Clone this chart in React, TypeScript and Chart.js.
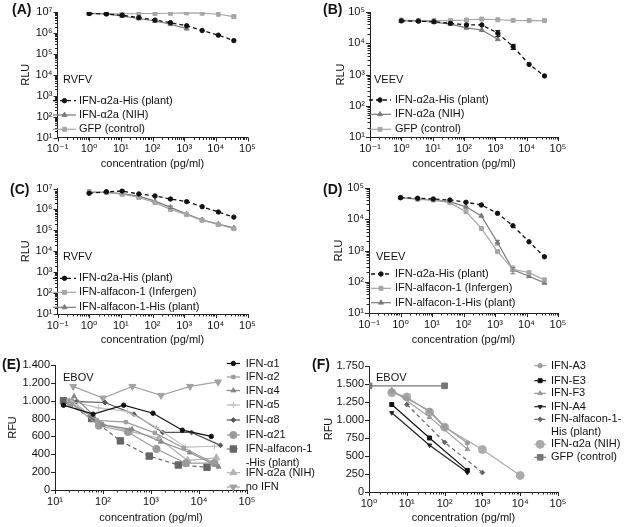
import React, { useEffect, useRef } from 'react';
import { Chart, registerables } from 'chart.js';
import { drawPoint } from 'chart.js/helpers';

Chart.register(...registerables);

const FONT = '"Liberation Sans", Arial, Helvetica, "DejaVu Sans", sans-serif';
Chart.defaults.font.family = FONT;
Chart.defaults.font.size = 11;
Chart.defaults.color = '#111';

// ---------------- DATA ----------------
// Panels A-D: dilution series (pg/ml)
const doseX = [1, 3.5, 11, 37, 120, 370, 1200, 3700, 12000, 37000];
const doseXnih = [1, 3.5, 11, 37, 120, 370, 1200];

// (A) RVFV
const aPlant = [8.5e6, 8e6, 7e6, 5.4e6, 4.1e6, 3.1e6, 2.2e6, 1.3e6, 7.8e5, 4.3e5];
const aNIH = [8.5e6, 8.2e6, 6.4e6, 4.9e6, 3.7e6, 2.6e6, 1.6e6];
const aGFP = [8.5e6, 8.5e6, 8.2e6, 8.5e6, 8.5e6, 8.7e6, 9e6, 8.8e6, 7.8e6, 6e6];

// (B) VEEV
const bPlant = [5.2e4, 5.1e4, 4.9e4, 4.35e4, 3.85e4, 3.85e4, 2.1e4, 7.8e3, 2.1e3, 9e2];
const bNIH = [5.15e4, 5.15e4, 4.7e4, 4.1e4, 3.1e4, 2.65e4, 1.34e4];
const bGFP = [5.55e4, 5.3e4, 5.3e4, 5.3e4, 5.55e4, 5.95e4, 5.65e4, 5.4e4, 5.3e4, 5.3e4];

// (C) RVFV
const cPlant = [5.9e6, 7.0e6, 7.6e6, 5.5e6, 4.4e6, 3.15e6, 2.35e6, 1.35e6, 7.5e5, 4.3e5];
const cInfergen = [7.2e6, 6.4e6, 5.3e6, 3.7e6, 2.1e6, 1.0e6, 5.6e5, 3.0e5, 1.9e5, 1.2e5];
const cAlfHis = [6.6e6, 6.6e6, 5.7e6, 4.3e6, 2.5e6, 1.25e6, 6.0e5, 3.2e5, 2.0e5, 1.3e5];

// (D) VEEV
const dPlant = [4.9e4, 4.7e4, 4.45e4, 4.13e4, 3.5e4, 2.86e4, 1.55e4, 6.2e3, 1.9e3, 6.3e2];
const dInfergen = [4.9e4, 4.35e4, 4.1e4, 3.4e4, 1.75e4, 5.1e3, 9.2e2, 2.5e2, 1.95e2, 1.15e2];
const dAlfHis = [4.9e4, 4.45e4, 4.1e4, 3.65e4, 2.5e4, 1.28e4, 1.8e3, 2.4e2, 1.5e2, 9.2e1];

// error bars [low, high] per point (null = none)
const aGFPErr = [null, null, null, null, null, null, null, null, null, [5e6, 7e6]];
const bPlantErr = [null, null, null, null, null, null, [1.65e4, 2.55e4], [6.3e3, 9.2e3], null, null];
const cAlfHisErr = [null, null, null, null, null, [1.1e6, 1.45e6], null, null, null, null];
const dInfergenErr = [null, null, null, null, null, null, null, [2.1e2, 3.2e2], [1.7e2, 2.2e2], null];
const dAlfHisErr = [null, null, null, null, null, null, [1.5e3, 2.1e3], [1.8e2, 2.9e2], null, null];

// (E) EBOV
const eA1X = [15, 62, 270, 1100, 4500, 18000];
const eA1 = [950, 850, 950, 860, 670, 600];
const eA2X = [19, 75, 300, 1200, 4800, 19000];
const eA2 = [1000, 780, 760, 640, 470, 310];
const eA4X = [25, 100, 400, 1600, 6400, 25600];
const eA4 = [1050, 730, 680, 540, 420, 260];
const eA5X = [20, 80, 320, 1300, 5200, 21000];
const eA5 = [1000, 920, 880, 700, 480, 490];
const eA8X = [28, 110, 440, 1750, 7000, 28000];
const eA8 = [990, 980, 850, 645, 645, 500];
const eA21X = [21, 82, 330, 1300, 5300, 21000];
const eA21 = [980, 720, 650, 460, 300, 300];
const eAlfX = [15, 58, 230, 920, 3700, 14700];
const eAlf = [1000, 800, 550, 380, 280, 255];
const eNIHX = [23, 90, 360, 1450, 5800, 23000];
const eNIH = [1000, 740, 660, 580, 330, 360];
const eNoX = [24, 100, 410, 1620, 6500, 25000];
const eNo = [1160, 1030, 1160, 1060, 1160, 1210];

// (F) EBOV
const fA3X = [4, 10, 40, 100, 400];
const fA3 = [1400, 1300, 1130, 910, 680];
const fE3X = [4, 40, 400];
const fE3 = [1215, 750, 300];
const fF3X = [4, 40, 400];
const fF3 = [1420, 1040, 595];
const fA4X = [4, 40, 400];
const fA4 = [1100, 650, 270];
const fAlfX = [10, 100, 1000];
const fAlf = [1215, 690, 270];
const fNIHX = [4, 10, 40, 100, 1000, 10000];
const fNIH = [1380, 1320, 1110, 900, 590, 230];
const fGFPX = [1, 100];
const fGFP = [1475, 1475];

// ---------------- HELPERS ----------------
const SUP: Record<string, string> = {
  '-': '\u207B', '0': '\u2070', '1': '\u00B9', '2': '\u00B2', '3': '\u00B3',
  '4': '\u2074', '5': '\u2075', '6': '\u2076', '7': '\u2077', '8': '\u2078', '9': '\u2079',
};
const isPow10 = (v: number) => Math.abs(Math.log10(v) - Math.round(Math.log10(v))) < 1e-6;
const powLabel = (v: number) => {
  if (!isPow10(v)) return '';
  const e = Math.round(Math.log10(v));
  return '10' + String(e).split('').map((c) => SUP[c]).join('');
};
const dotThousands = (v: number) =>
  v >= 1000 ? `${Math.floor(v / 1000)}.${String(v % 1000).padStart(3, '0')}` : String(v);

const logTicks = (scale: any) => {
  const lo = Math.round(Math.log10(scale.min));
  const hi = Math.round(Math.log10(scale.max));
  const out: any[] = [];
  for (let e = lo; e <= hi; e++) {
    for (let m = 1; m <= 9; m++) {
      if (e === hi && m > 1) break;
      out.push({ value: m * Math.pow(10, e) });
    }
  }
  scale.ticks = out;
};

type Plot = { l: number; t: number; r: number; b: number };
const geom = (W: number, H: number, p: Plot, yTitleX: number, xTitleY: number) => {
  const half = 6.6;
  const pl = yTitleX - half;
  const pb = H - xTitleY - half;
  return {
    padding: { left: pl, top: p.t, right: W - p.r, bottom: pb },
    yW: p.l - pl,
    xH: H - pb - p.b,
  };
};

const axisBase = (title: string) => ({
  border: { display: true, color: '#222', width: 1 },
  grid: { display: true, drawOnChartArea: false, drawTicks: true, tickLength: 4, tickColor: 'rgba(0,0,0,0)' },
  title: { display: true, text: title, padding: 0, color: '#111', font: { size: 11 } },
});

const logAxis = (min: number, max: number, title: string, fitKey: 'width' | 'height', fitVal: number) => ({
  type: 'logarithmic',
  min,
  max,
  ...axisBase(title),
  afterBuildTicks: logTicks,
  afterFit: (s: any) => { s[fitKey] = fitVal; },
  ticks: {
    autoSkip: false, maxRotation: 0, minRotation: 0, padding: 1, color: '#111',
    font: { size: 11 },
    callback: (v: any) => powLabel(Number(v)),
  },
});

const linAxis = (max: number, step: number, title: string, fitVal: number) => ({
  type: 'linear',
  min: 0,
  max,
  ...axisBase(title),
  afterFit: (s: any) => { s.width = fitVal; },
  ticks: {
    stepSize: step, autoSkip: false, padding: 1, color: '#111', font: { size: 11 },
    callback: (v: any) => dotThousands(Number(v)),
  },
});

type Style = { color: string; ps: string; r: number; lw?: number; dash?: number[]; rot?: number; fill?: string; err?: any[] };
const series = (label: string, xs: number[], ys: number[], s: Style) => ({
  label,
  data: xs.map((x, i) => ({ x, y: ys[i] })),
  borderColor: s.color,
  backgroundColor: s.color,
  pointBackgroundColor: s.fill ?? s.color,
  pointBorderColor: s.color,
  borderWidth: s.lw ?? 1.2,
  borderDash: s.dash ?? [],
  pointStyle: s.ps,
  pointRadius: s.r,
  pointHoverRadius: s.r,
  pointRotation: s.rot ?? 0,
  pointBorderWidth: 1,
  tension: 0,
  fill: false,
  errorBars: s.err,
});

// ---------------- PLUGINS ----------------
const tickMarks = {
  id: 'tickMarks',
  afterDraw(chart: any) {
    const ctx = chart.ctx;
    ctx.save();
    ctx.strokeStyle = '#222';
    ctx.lineWidth = 1;
    ['x', 'y'].forEach((id) => {
      const s = chart.scales[id];
      if (!s) return;
      s.ticks.forEach((t: any) => {
        const p = s.getPixelForValue(t.value);
        const len = s.type === 'logarithmic' && !isPow10(t.value) ? 2.5 : 4;
        ctx.beginPath();
        if (id === 'x') {
          const px = Math.round(p) + 0.5;
          ctx.moveTo(px, s.top);
          ctx.lineTo(px, s.top + len);
        } else {
          const py = Math.round(p) + 0.5;
          ctx.moveTo(s.right, py);
          ctx.lineTo(s.right - len, py);
        }
        ctx.stroke();
      });
    });
    ctx.restore();
  },
};

const errorBars = {
  id: 'errorBars',
  afterDatasetsDraw(chart: any) {
    const ctx = chart.ctx;
    const ys = chart.scales.y;
    chart.data.datasets.forEach((ds: any, di: number) => {
      if (!ds.errorBars) return;
      const meta = chart.getDatasetMeta(di);
      ctx.save();
      ctx.strokeStyle = ds.borderColor;
      ctx.lineWidth = 1;
      ds.errorBars.forEach((e: any, i: number) => {
        if (!e) return;
        const el = meta.data[i];
        if (!el) return;
        const x = el.x;
        const y0 = ys.getPixelForValue(e[0]);
        const y1 = ys.getPixelForValue(e[1]);
        ctx.beginPath();
        ctx.moveTo(x, y0); ctx.lineTo(x, y1);
        ctx.moveTo(x - 2.5, y0); ctx.lineTo(x + 2.5, y0);
        ctx.moveTo(x - 2.5, y1); ctx.lineTo(x + 2.5, y1);
        ctx.stroke();
      });
      ctx.restore();
    });
  },
};

const panelLegend = {
  id: 'panelLegend',
  afterDraw(chart: any, _args: any, opts: any) {
    if (!opts || !opts.rows) return;
    const ctx = chart.ctx;
    ctx.save();
    ctx.font = `11px ${FONT}`;
    ctx.textBaseline = 'middle';
    ctx.textAlign = 'left';
    ctx.fillStyle = '#111';
    if (opts.header) ctx.fillText(opts.header.text, opts.header.x, opts.header.y);
    opts.rows.forEach((r: any) => {
      const ds = chart.data.datasets[r.ds];
      ctx.save();
      ctx.strokeStyle = ds.borderColor;
      ctx.lineWidth = ds.borderWidth;
      ctx.setLineDash(ds.borderDash || []);
      ctx.beginPath();
      ctx.moveTo(opts.x0, r.y);
      ctx.lineTo(opts.x1, r.y);
      ctx.stroke();
      ctx.restore();
      ctx.save();
      ctx.fillStyle = ds.pointBackgroundColor;
      ctx.strokeStyle = ds.pointBorderColor;
      ctx.lineWidth = 1;
      drawPoint(ctx, { pointStyle: ds.pointStyle, rotation: ds.pointRotation, radius: ds.pointRadius, borderWidth: 1 } as any,
        (opts.x0 + opts.x1) / 2, r.y);
      ctx.restore();
      ctx.fillStyle = '#111';
      r.text.forEach((line: string, i: number) => ctx.fillText(line, opts.tx, r.y + i * (r.dy || 13)));
    });
    ctx.restore();
  },
};

// ---------------- CONFIG BUILDERS ----------------
const BLACK = '#111';
const G1 = '#7a7a7a';
const G2 = '#a6a6a6';

const makeConfig = (W: number, H: number, p: Plot, yTitleX: number, xTitleY: number, xAxis: any, yAxis: any, datasets: any[], legend: any) => ({
  type: 'line',
  data: { datasets },
  options: {
    responsive: false,
    animation: false,
    devicePixelRatio: 1,
    events: [],
    layout: { padding: geom(W, H, p, yTitleX, xTitleY).padding },
    scales: { x: xAxis, y: yAxis },
    plugins: { legend: { display: false }, tooltip: { enabled: false }, title: { display: false }, panelLegend: legend },
  },
  plugins: [tickMarks, errorBars, panelLegend],
});

const W = 316;

const cfgA = () => {
  const H = 175, p = { l: 57.5, t: 12, r: 247.5, b: 137.5 };
  const g = geom(W, H, p, 26, 163.5);
  return makeConfig(W, H, p, 26, 163.5,
    logAxis(0.1, 1e5, 'concentration (pg/ml)', 'height', g.xH),
    logAxis(10, 1e7, 'RLU', 'width', g.yW),
    [
      series('IFN-α2a-His (plant)', doseX, aPlant, { color: BLACK, ps: 'circle', r: 2.2, dash: [4, 3], lw: 1.3 }),
      series('IFN-α2a (NIH)', doseXnih, aNIH, { color: G1, ps: 'triangle', r: 2.8 }),
      series('GFP (control)', doseX, aGFP, { color: G2, ps: 'rect', r: 2.8, err: aGFPErr }),
    ],
    { header: { text: 'RVFV', x: 63, y: 80 }, x0: 53, x1: 76, tx: 79,
      rows: [{ ds: 0, y: 100.7, text: ['IFN-α2a-His (plant)'] }, { ds: 1, y: 115, text: ['IFN-α2a (NIH)'] }, { ds: 2, y: 129.3, text: ['GFP (control)'] }] });
};

const cfgB = () => {
  const H = 175, p = { l: 54, t: 12, r: 242, b: 137 };
  const g = geom(W, H, p, 25, 163.5);
  return makeConfig(W, H, p, 25, 163.5,
    logAxis(0.1, 1e5, 'concentration (pg/ml)', 'height', g.xH),
    logAxis(10, 1e5, 'RLU', 'width', g.yW),
    [
      series('IFN-α2a-His (plant)', doseX, bPlant, { color: BLACK, ps: 'circle', r: 2.2, dash: [4, 3], lw: 1.3, err: bPlantErr }),
      series('IFN-α2a (NIH)', doseXnih, bNIH, { color: G1, ps: 'triangle', r: 2.8 }),
      series('GFP (control)', doseX, bGFP, { color: G2, ps: 'rect', r: 2.8 }),
    ],
    { header: { text: 'VEEV', x: 58, y: 80 }, x0: 53, x1: 75, tx: 79,
      rows: [{ ds: 0, y: 100, text: ['IFN-α2a-His (plant)'] }, { ds: 1, y: 114.3, text: ['IFN-α2a (NIH)'] }, { ds: 2, y: 129.3, text: ['GFP (control)'] }] });
};

const cfgC = () => {
  const H = 175, p = { l: 57.5, t: 13.5, r: 247.5, b: 139 };
  const g = geom(W, H, p, 26, 165);
  return makeConfig(W, H, p, 26, 165,
    logAxis(0.1, 1e5, 'concentration (pg/ml)', 'height', g.xH),
    logAxis(10, 1e7, 'RLU', 'width', g.yW),
    [
      series('IFN-α2a-His (plant)', doseX, cPlant, { color: BLACK, ps: 'circle', r: 2.2, dash: [4, 3], lw: 1.3 }),
      series('IFN-alfacon-1 (Infergen)', doseX, cInfergen, { color: G2, ps: 'rect', r: 2.8 }),
      series('IFN-alfacon-1-His (plant)', doseX, cAlfHis, { color: G1, ps: 'triangle', r: 2.8, err: cAlfHisErr }),
    ],
    { header: { text: 'RVFV', x: 63, y: 81.7 }, x0: 53, x1: 76, tx: 79,
      rows: [{ ds: 0, y: 103.3, text: ['IFN-α2a-His (plant)'] }, { ds: 1, y: 117.3, text: ['IFN-alfacon-1 (Infergen)'] }, { ds: 2, y: 132.3, text: ['IFN-alfacon-1-His (plant)'] }] });
};

const cfgD = () => {
  const H = 175, p = { l: 53, t: 13, r: 242, b: 138 };
  const g = geom(W, H, p, 23, 164.5);
  return makeConfig(W, H, p, 23, 164.5,
    logAxis(0.1, 1e5, 'concentration (pg/ml)', 'height', g.xH),
    logAxis(10, 1e5, 'RLU', 'width', g.yW),
    [
      series('IFN-α2a-His (plant)', doseX, dPlant, { color: BLACK, ps: 'circle', r: 2.2, dash: [4, 3], lw: 1.3 }),
      series('IFN-alfacon-1 (Infergen)', doseX, dInfergen, { color: G2, ps: 'rect', r: 2.8, err: dInfergenErr }),
      series('IFN-alfacon-1-His (plant)', doseX, dAlfHis, { color: G1, ps: 'triangle', r: 2.8, err: dAlfHisErr }),
    ],
    { header: { text: 'VEEV', x: 60, y: 81.7 }, x0: 55, x1: 75, tx: 79,
      rows: [{ ds: 0, y: 99, text: ['IFN-α2a-His (plant)'] }, { ds: 1, y: 113.3, text: ['IFN-alfacon-1 (Infergen)'] }, { ds: 2, y: 127.7, text: ['IFN-alfacon-1-His (plant)'] }] });
};

const cfgE = () => {
  const H = 177, p = { l: 55, t: 15, r: 247, b: 140 };
  const g = geom(W, H, p, 13.3, 168.3);
  return makeConfig(W, H, p, 13.3, 168.3,
    logAxis(10, 1e5, 'concentration (pg/ml)', 'height', g.xH),
    linAxis(1400, 200, 'RFU', g.yW),
    [
      series('IFN-α1', eA1X, eA1, { color: BLACK, ps: 'circle', r: 2.2 }),
      series('IFN-α2', eA2X, eA2, { color: '#9c9c9c', ps: 'rect', r: 2.4 }),
      series('IFN-α4', eA4X, eA4, { color: '#888888', ps: 'triangle', r: 2.8 }),
      series('IFN-α5', eA5X, eA5, { color: '#bdbdbd', ps: 'cross', r: 3 }),
      series('IFN-α8', eA8X, eA8, { color: '#555555', ps: 'rectRot', r: 2.4 }),
      series('IFN-α21', eA21X, eA21, { color: '#9a9a9a', ps: 'circle', r: 3.6 }),
      series('IFN-alfacon-1-His (plant)', eAlfX, eAlf, { color: '#666666', ps: 'rect', r: 4.5, dash: [4, 3] }),
      series('IFN-α2a (NIH)', eNIHX, eNIH, { color: '#b3b3b3', ps: 'triangle', r: 4 }),
      series('no IFN', eNoX, eNo, { color: '#a3a3a3', ps: 'triangle', r: 4, rot: 180 }),
    ],
    { header: { text: 'EBOV', x: 63, y: 28 }, x0: 226.7, x1: 240, tx: 245.7,
      rows: [
        { ds: 0, y: 13.5, text: ['IFN-α1'] },
        { ds: 1, y: 27, text: ['IFN-α2'] },
        { ds: 2, y: 40.5, text: ['IFN-α4'] },
        { ds: 3, y: 55, text: ['IFN-α5'] },
        { ds: 4, y: 70, text: ['IFN-α8'] },
        { ds: 5, y: 85, text: ['IFN-α21'] },
        { ds: 6, y: 99, text: ['IFN-alfacon-1', '-His (plant)'], dy: 14 },
        { ds: 7, y: 122.7, text: ['IFN-α2a (NIH)'] },
        { ds: 8, y: 137, text: ['no IFN'] },
      ] });
};

const cfgF = () => {
  const H = 177, p = { l: 53, t: 16, r: 242, b: 142 };
  const g = geom(W, H, p, 12.5, 168.3);
  return makeConfig(W, H, p, 12.5, 168.3,
    logAxis(1, 1e5, 'concentration (pg/ml)', 'height', g.xH),
    linAxis(1750, 250, 'RFU', g.yW),
    [
      series('IFN-A3', fA3X, fA3, { color: '#9c9c9c', ps: 'circle', r: 2.2 }),
      series('IFN-E3', fE3X, fE3, { color: BLACK, ps: 'rect', r: 2.8 }),
      series('IFN-F3', fF3X, fF3, { color: '#999999', ps: 'triangle', r: 2.6 }),
      series('IFN-A4', fA4X, fA4, { color: '#222222', ps: 'triangle', r: 2.4, rot: 180 }),
      series('IFN-alfacon-1-His (plant)', fAlfX, fAlf, { color: '#666666', ps: 'rectRot', r: 2.4, dash: [4, 3] }),
      series('IFN-α2a (NIH)', fNIHX, fNIH, { color: '#ababab', ps: 'circle', r: 4 }),
      series('GFP (control)', fGFPX, fGFP, { color: '#777777', ps: 'rect', r: 4 }),
    ],
    { header: { text: 'EBOV', x: 60, y: 28 }, x0: 218.3, x1: 230, tx: 235,
      rows: [
        { ds: 0, y: 15.7, text: ['IFN-A3'] },
        { ds: 1, y: 30.7, text: ['IFN-E3'] },
        { ds: 2, y: 43.3, text: ['IFN-F3'] },
        { ds: 3, y: 56.7, text: ['IFN-A4'] },
        { ds: 4, y: 69.3, text: ['IFN-alfacon-1-', 'His (plant)'], dy: 12.4 },
        { ds: 5, y: 94.3, text: ['IFN-α2a (NIH)'] },
        { ds: 6, y: 107.3, text: ['GFP (control)'] },
      ] });
};

// ---------------- COMPONENTS ----------------
function Panel({ left, top, width, height, make }: { left: number; top: number; width: number; height: number; make: () => any }) {
  const ref = useRef<HTMLCanvasElement>(null);
  useEffect(() => {
    const chart = new Chart(ref.current as HTMLCanvasElement, make());
    return () => chart.destroy();
  }, []);
  return (
    <canvas ref={ref} width={width} height={height}
      style={{ position: 'absolute', left, top, width, height, display: 'block' }} />
  );
}

const labelStyle = (left: number, top: number): React.CSSProperties => ({
  position: 'absolute', left, top, font: `bold 14px ${FONT}`, lineHeight: '14px', color: '#111', zIndex: 2,
});

export default function App() {
  return (
    <div style={{ position: 'absolute', left: 0, top: 0, width: 632, height: 527, background: '#fff', overflow: 'hidden' }}>
      <Panel left={0} top={0} width={316} height={175} make={cfgA} />
      <Panel left={316} top={0} width={316} height={175} make={cfgB} />
      <Panel left={0} top={175} width={316} height={175} make={cfgC} />
      <Panel left={316} top={175} width={316} height={175} make={cfgD} />
      <Panel left={0} top={350} width={316} height={177} make={cfgE} />
      <Panel left={316} top={350} width={316} height={177} make={cfgF} />
      <div style={labelStyle(12, 2)}>(A)</div>
      <div style={labelStyle(323, 2)}>(B)</div>
      <div style={labelStyle(10, 182)}>(C)</div>
      <div style={labelStyle(323, 182)}>(D)</div>
      <div style={labelStyle(2, 357)}>(E)</div>
      <div style={labelStyle(312, 357)}>(F)</div>
    </div>
  );
}
